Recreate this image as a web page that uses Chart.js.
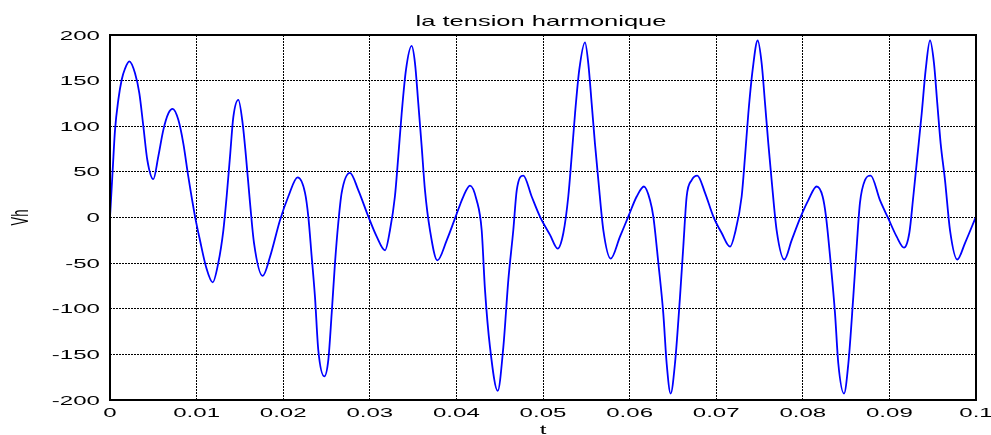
<!DOCTYPE html>
<html>
<head>
<meta charset="utf-8">
<title>la tension harmonique</title>
<script src="https://cdn.jsdelivr.net/npm/chart.js@4/dist/chart.umd.min.js"></script>
<style>
  html, body { margin: 0; padding: 0; background: #ffffff; }
  #chart { display: block; }
</style>
</head>
<body>
<canvas id="chart" width="991" height="435"></canvas>
<script>
// Chart data
const tValues = [
  0, 0.00031, 0.00058, 0.00096, 0.00135, 0.00173, 0.00223, 0.00289, 0.00339, 0.00385,
  0.00431, 0.0050, 0.00558, 0.00616, 0.00674, 0.00724, 0.00789, 0.00847, 0.00904, 0.00982,
  0.01039, 0.01109, 0.01186, 0.0125, 0.01309, 0.01347, 0.01386, 0.01424, 0.01482, 0.01532,
  0.0157, 0.01617, 0.01663, 0.01763, 0.01848, 0.01963, 0.02059, 0.02167, 0.02252, 0.0229,
  0.02329, 0.02367, 0.02405, 0.02475, 0.02521, 0.0256, 0.02598, 0.02636, 0.02675, 0.02771,
  0.02867, 0.02983, 0.0308, 0.03176, 0.03233, 0.0329, 0.03329, 0.03368, 0.03418, 0.03483,
  0.03522, 0.0356, 0.03599, 0.03637, 0.03695, 0.0378, 0.03888, 0.03984, 0.0408, 0.04157,
  0.04234, 0.04292, 0.0433, 0.04388, 0.04477, 0.04542, 0.046, 0.04657, 0.04697, 0.04773,
  0.04869, 0.04965, 0.05081, 0.0517, 0.05235, 0.05292, 0.05331, 0.0537, 0.05419, 0.05485,
  0.05523, 0.05562, 0.056, 0.05639, 0.05697, 0.05782, 0.05889, 0.05985, 0.06082, 0.06166,
  0.06236, 0.06274, 0.06332, 0.06389, 0.06428, 0.06474, 0.06524, 0.06582, 0.0662, 0.06659,
  0.06717, 0.06782, 0.06871, 0.06967, 0.07063, 0.0716, 0.07217, 0.07294, 0.07333, 0.07371,
  0.07421, 0.07479, 0.07525, 0.07564, 0.07602, 0.0764, 0.07698, 0.07787, 0.07871, 0.07968,
  0.08064, 0.0816, 0.08229, 0.08268, 0.08322, 0.08372, 0.0841, 0.08476, 0.08526, 0.08583,
  0.08622, 0.0866, 0.08718, 0.08784, 0.08891, 0.08987, 0.09084, 0.09169, 0.0923, 0.09276,
  0.09323, 0.09373, 0.09419, 0.09469, 0.09515, 0.09553, 0.09592, 0.09642, 0.097, 0.09784,
  0.09873, 0.1
];
const vhValues = [
  0, 52, 96, 129, 151, 163, 171, 158, 136, 100,
  63, 42, 67, 96, 114, 119, 107, 81, 45, 1,
  -25, -54, -71, -50, -14, 23, 67, 110, 129, 103,
  67, 16, -28, -64, -43, -3, 23, 44, 27, 1,
  -43, -87, -145, -174, -156, -105, -50, -6, 27, 49,
  30, 1, -21, -36, -14, 23, 67, 114, 162, 188,
  169, 125, 78, 30, -14, -47, -25, -1, 23, 35,
  19, -14, -79, -142, -190, -142, -68, -14, 30, 46,
  23, 1, -19, -34, -17, 23, 67, 114, 162, 192,
  169, 125, 81, 41, -14, -45, -21, 1, 23, 34,
  19, 1, -50, -105, -160, -193, -160, -87, -32, 23,
  41, 46, 27, 1, -17, -32, -17, 23, 67, 114,
  162, 194, 169, 125, 81, 41, -14, -46, -25, -1,
  19, 34, 23, 1, -50, -105, -160, -193, -160, -87,
  -32, 16, 41, 46, 19, -1, -21, -33, -17, 23,
  67, 114, 162, 194, 169, 125, 81, 41, -14, -46,
  -28, 1
];
const xTickLabels = ['0', '0.01', '0.02', '0.03', '0.04', '0.05', '0.06', '0.07', '0.08', '0.09', '0.1'];
const yTickLabels = ['-200', '-150', '-100', '-50', '0', '50', '100', '150', '200'];

const chartTitle = 'la tension harmonique';
const xAxisLabel = 't';
const yAxisLabel = 'Vh';

// Text in the picture is stretched sideways, so draw it scaled
const textStretch = 1.85;
const tickFont = '13px "Liberation Sans", Arial, sans-serif';

function stretchText(ctx, text, x, y, sx, align, baseline) {
  ctx.save();
  ctx.translate(x, y);
  ctx.scale(sx, 1);
  ctx.textAlign = align;
  ctx.textBaseline = baseline;
  ctx.fillText(text, 0, 0);
  ctx.restore();
}

// Plugin for the frame, tick labels, title and axis labels
const matlabDecor = {
  id: 'matlabDecor',
  afterDraw(chart) {
    const ctx = chart.ctx;
    const area = chart.chartArea;
    const xScale = chart.scales.x;
    const yScale = chart.scales.y;

    // axes box
    ctx.save();
    ctx.strokeStyle = '#000000';
    ctx.lineWidth = 2;
    ctx.strokeRect(area.left, area.top, area.right - area.left, area.bottom - area.top);

    ctx.fillStyle = '#000000';
    ctx.font = tickFont;

    xTickLabels.forEach((label) => {
      const px = xScale.getPixelForValue(parseFloat(label));
      stretchText(ctx, label, px, area.bottom + 13, textStretch, 'center', 'middle');
    });

    yTickLabels.forEach((label) => {
      const py = yScale.getPixelForValue(parseFloat(label));
      stretchText(ctx, label, area.left - 10, py + 1, textStretch, 'right', 'middle');
    });

    // axis labels
    stretchText(ctx, xAxisLabel, (area.left + area.right) / 2, area.bottom + 34, textStretch, 'center', 'alphabetic');

    ctx.save();
    ctx.translate(21, (area.top + area.bottom) / 2);
    ctx.scale(textStretch, 1);
    ctx.rotate(-Math.PI / 2);
    ctx.textAlign = 'center';
    ctx.textBaseline = 'middle';
    ctx.fillText(yAxisLabel, 0, 0);
    ctx.restore();

    // title
    ctx.font = '15px "Liberation Sans", Arial, sans-serif';
    stretchText(ctx, chartTitle, 541, 26, 1.7, 'center', 'alphabetic');
    ctx.restore();
  }
};

const chartContainer = document.getElementById('chart');
const ctx = chartContainer.getContext('2d');

new Chart(ctx, {
  type: 'line',
  data: {
    datasets: [{
      label: yAxisLabel,
      data: tValues.map((t, i) => ({ x: t, y: vhValues[i] })),
      borderColor: '#0000ff',
      borderWidth: 1.8,
      pointRadius: 0,
      fill: false,
      cubicInterpolationMode: 'monotone'
    }]
  },
  options: {
    responsive: false,
    animation: false,
    devicePixelRatio: 1,
    layout: {
      padding: { left: 110, right: 15, top: 35, bottom: 35 }
    },
    plugins: {
      legend: { display: false },
      tooltip: { enabled: false }
    },
    scales: {
      x: {
        type: 'linear',
        min: 0,
        max: 0.1,
        ticks: { display: false, stepSize: 0.01 },
        grid: { color: '#000000', lineWidth: 1, drawTicks: false },
        border: { display: false, dash: [2, 1] }
      },
      y: {
        type: 'linear',
        min: -200,
        max: 200,
        ticks: { display: false, stepSize: 50 },
        grid: { color: '#000000', lineWidth: 1, drawTicks: false },
        border: { display: false, dash: [2, 1] }
      }
    }
  },
  plugins: [matlabDecor]
});
</script>
</body>
</html>
